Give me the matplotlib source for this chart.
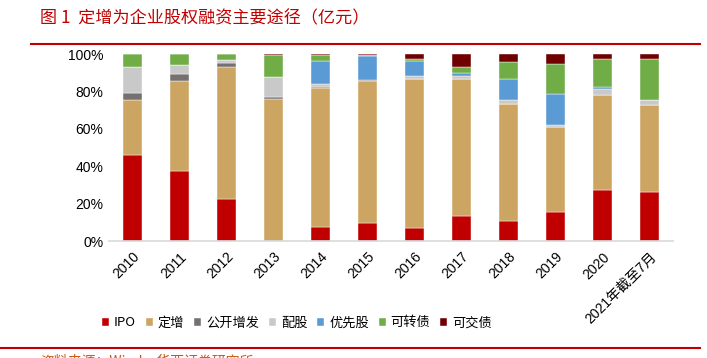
import matplotlib
matplotlib.use("Agg")
import matplotlib.pyplot as plt
import numpy as np

plt.rcParams['font.family'] = ['Liberation Sans', 'Noto Sans CJK SC', 'DejaVu Sans']

categories = ['2010', '2011', '2012', '2013', '2014', '2015', '2016', '2017',
              '2018', '2019', '2020', '2021年截至7月']
series_names = ['IPO', '定增', '公开增发', '配股', '优先股', '可转债', '可交债']
ipo =   [46.3, 37.4, 22.4, 0.0, 7.7, 9.6, 6.9, 13.5, 10.9, 15.8, 27.6, 26.3]
dingzeng = [29.1, 48.4, 70.5, 76.0, 74.3, 76.2, 79.9, 73.3, 62.6, 45.1, 50.5, 46.7]
gongkai = [4.0, 3.7, 2.5, 1.0, 0.6, 0.2, 0.0, 0.0, 0.0, 0.3, 0.0, 0.0]
peigu = [13.7, 4.6, 1.4, 10.7, 1.4, 0.0, 1.5, 1.6, 1.9, 0.9, 3.2, 2.4]
youxian = [0.0, 0.0, 0.0, 0.0, 12.1, 12.8, 7.8, 1.3, 11.1, 16.7, 1.3, 0.0]
kezhuan = [6.9, 5.9, 3.2, 11.9, 3.2, 0.5, 1.2, 3.4, 9.1, 16.0, 14.7, 21.9]
kejiao = [0.0, 0.0, 0.0, 0.4, 0.7, 0.7, 2.7, 6.9, 4.4, 5.2, 2.7, 2.7]
colors = ['#C00000', '#CDA562', '#767171', '#C9C9C9', '#5B9BD5', '#70AD47', '#700000']

data = np.array([ipo, dingzeng, gongkai, peigu, youxian, kezhuan, kejiao], dtype=float)
data = data / data.sum(axis=0) * 100

fig = plt.figure(figsize=(7.07, 3.58), dpi=100)
ax = fig.add_axes([0.154, 0.326, 0.798, 0.523])
x = np.arange(len(categories))
bottom = np.zeros(len(categories))
handles = []
for name, vals, c in zip(series_names, data, colors):
    h = ax.bar(x, vals, 0.4, bottom=bottom, color=c, label=name,
               edgecolor='white', linewidth=0.3)
    handles.append(h)
    bottom += vals

ax.set_xlim(-0.5, len(categories) - 0.5)
ax.set_ylim(0, 100)
ax.set_yticks([0, 20, 40, 60, 80, 100])
ax.set_yticklabels([f'{v}%' for v in [0, 20, 40, 60, 80, 100]], fontsize=10)
ax.set_xticks(x)
ax.set_xticklabels(categories, rotation=45, ha='right', rotation_mode='anchor', fontsize=10)
for s in ['top', 'right', 'left']:
    ax.spines[s].set_visible(False)
ax.spines['bottom'].set_color('#D9D9D9')
ax.spines['bottom'].set_linewidth(1.2)
ax.tick_params(length=0, pad=4)
ax.tick_params(axis='x', pad=6)

fig.legend(handles=handles, labels=series_names, loc='center', bbox_to_anchor=(0.42, 0.098),
           ncol=7, frameon=False, handlelength=0.55, handleheight=0.55,
           handletextpad=0.35, columnspacing=0.75,
           prop={'family': ['Noto Sans CJK SC'], 'size': 9.5})

fig.text(0.057, 0.948, '图 1  定增为企业股权融资主要途径（亿元）', color='#C00000', fontsize=12.3,
         va='center', ha='left', family=['Noto Sans CJK SC'])
fig.add_artist(plt.Line2D([0.044, 0.99], [0.877, 0.877], color='#C00000', lw=1.5))
fig.add_artist(plt.Line2D([0.0, 0.99], [0.028, 0.028], color='#C00000', lw=1.5))
fig.text(0.057, -0.008, '资料来源：Wind，华西证券研究所', color='#C55A11', fontsize=10,
         va='center', ha='left', family=['Noto Sans CJK SC'])

fig.savefig('out.png', dpi=100)
